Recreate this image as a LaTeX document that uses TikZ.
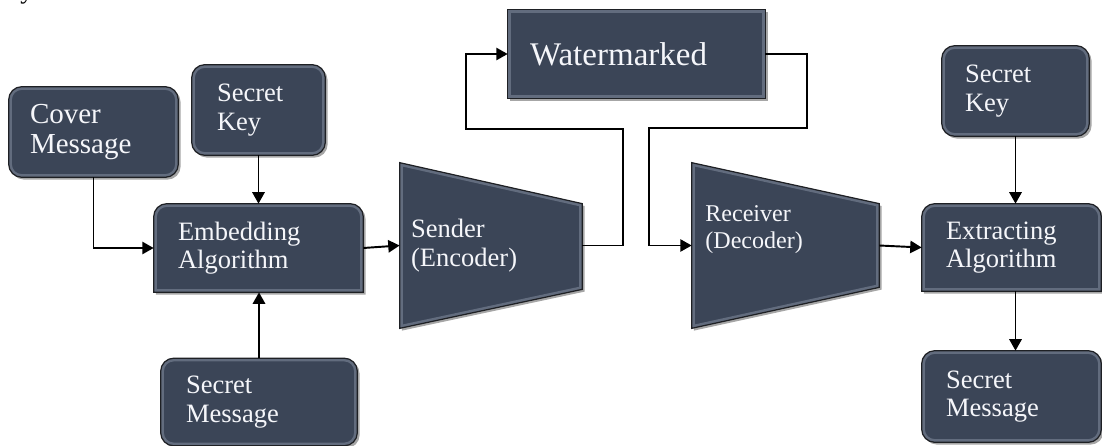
\documentclass[tikz,border=0pt]{standalone}
\usepackage{fontspec}
\setmainfont{Liberation Serif}
\usetikzlibrary{calc,arrows.meta,shadows,backgrounds}
\definecolor{boxc}{RGB}{59,69,87}
\definecolor{bevelc}{RGB}{98,108,126}
\definecolor{edgec}{RGB}{30,32,36}
\definecolor{txtc}{RGB}{245,246,250}
\newcommand{\myshape}[1]{%
  \fill[boxc, drop shadow={shadow xshift=1.3pt, shadow yshift=-1.3pt, opacity=0.35, fill=black}] #1;
  \begin{scope}\clip #1; \draw[bevelc, line width=3.6pt] #1; \end{scope}
  \draw[edgec, line width=0.7pt] #1;}
\tikzset{
  txt/.style={text=txtc, align=left, inner ysep=0pt, anchor=center},
  fmain/.style={font=\fontsize{15.1pt}{16.2pt}\selectfont},
  fcover/.style={font=\fontsize{16.5pt}{17pt}\selectfont},
  fwater/.style={font=\fontsize{18.8pt}{20pt}\selectfont},
  frecv/.style={font=\fontsize{13.7pt}{15.4pt}\selectfont},
  arr/.style={draw=black, line width=1.1pt, -{Triangle[length=6.5pt,width=7pt]}},
}
\begin{document}
\begin{tikzpicture}[x=0.02cm,y=-0.02cm]
\useasboundingbox (0,0) rectangle (1102,446);
% fragment at top-left
\node[anchor=base west, inner sep=0pt, font=\fontsize{15pt}{16pt}\selectfont] (frag) at (20,-1) {y};
% nodes (W, H, pad in px; 1px = 0.02cm)
\node[txt, fcover, minimum width=3.38cm, minimum height=1.8cm, text width=2.54cm, inner xsep=0.42cm] (cover) at (93.5,132) {Cover\\Message};
\node[txt, fmain, minimum width=2.66cm, minimum height=1.8cm, text width=1.66cm, inner xsep=0.5cm] (keyL) at (258.5,110) {Secret\\Key};
\node[txt, fmain, minimum width=4.18cm, minimum height=1.76cm, text width=3.22cm, inner xsep=0.48cm] (embed) at (258.5,248) {Embedding\\Algorithm};
\node[txt, fmain, minimum width=3.92cm, minimum height=1.74cm, text width=2.92cm, inner xsep=0.5cm] (msgL) at (259,402) {Secret\\Message};
\node[txt, fwater, minimum width=5.14cm, minimum height=1.76cm, text width=4.26cm, inner xsep=0.44cm] (water) at (636.5,54) {Watermarked};
\node[txt, fmain, minimum width=3.64cm, minimum height=3.3cm, text width=3.2cm, inner xsep=0.22cm] (sender) at (491,245.5) {Sender\\(Encoder)};
\node[minimum width=3.74cm, minimum height=3.3cm, inner sep=0pt] (recv) at (785.5,245.5) {};
\node[txt, frecv, anchor=west, inner xsep=0pt] (recvtxt) at (705,229.5) {Receiver\\(Decoder)};
\node[txt, fmain, minimum width=3.58cm, minimum height=1.74cm, text width=2.62cm, inner xsep=0.48cm] (extract) at (1011.5,247.5) {Extracting\\Algorithm};
\node[txt, fmain, minimum width=2.94cm, minimum height=1.8cm, text width=2.02cm, inner xsep=0.46cm] (keyR) at (1015.5,91) {Secret\\Key};
\node[txt, fmain, minimum width=3.58cm, minimum height=1.82cm, text width=2.62cm, inner xsep=0.48cm] (msgR) at (1011.5,396.5) {Secret\\Message};
% shapes behind
\begin{pgfonlayer}{background}
\myshape{[rounded corners=7.5pt] (cover.north west) rectangle (cover.south east)}
\myshape{[rounded corners=7.5pt] (keyL.north west) rectangle (keyL.south east)}
\myshape{[rounded corners=7.5pt] (msgL.north west) rectangle (msgL.south east)}
\myshape{[rounded corners=7.5pt] (keyR.north west) rectangle (keyR.south east)}
\myshape{[rounded corners=7.5pt] (msgR.north west) rectangle (msgR.south east)}
\myshape{(water.north west) rectangle (water.south east)}
\myshape{(embed.south west) -- ([yshift=-7.5pt]embed.north west) arc[start angle=180, end angle=90, radius=7.5pt] -- ([xshift=-7.5pt]embed.north east) arc[start angle=90, end angle=0, radius=7.5pt] -- (embed.south east) -- cycle}
\myshape{(extract.south west) -- ([yshift=-7.5pt]extract.north west) arc[start angle=180, end angle=90, radius=7.5pt] -- ([xshift=-7.5pt]extract.north east) arc[start angle=90, end angle=0, radius=7.5pt] -- (extract.south east) -- cycle}
\myshape{(sender.north west) -- ($(sender.north east)+(0,41)$) -- ($(sender.south east)+(0,-39)$) -- (sender.south west) -- cycle}
\myshape{(recv.north west) -- ($(recv.north east)+(0,41)$) -- ($(recv.south east)+(0,-41)$) -- (recv.south west) -- cycle}
\end{pgfonlayer}
% bend points
\coordinate (b1) at (623,129);
\coordinate (b2) at (466,129);
\coordinate (b3) at (807,128);
\coordinate (b4) at (649,128);
% connectors
\draw[arr] (cover.south) |- (embed.west);
\draw[arr] (keyL.south) -- (keyL.south |- embed.north);
\draw[arr] (msgL.north) -- (msgL.north |- embed.south);
\draw[arr] (embed.east) -- (sender.west);
\draw[arr] (sender.east) -| (b1) -- (b2) |- (water.west);
\draw[arr] (water.east) -| (b3) -- (b4) |- (recv.west);
\draw[arr] (recv.east) -- (extract.west);
\draw[arr] (keyR.south) -- (keyR.south |- extract.north);
\draw[arr] (keyR.south |- extract.south) -- (keyR.south |- msgR.north);
\end{tikzpicture}
\end{document}
